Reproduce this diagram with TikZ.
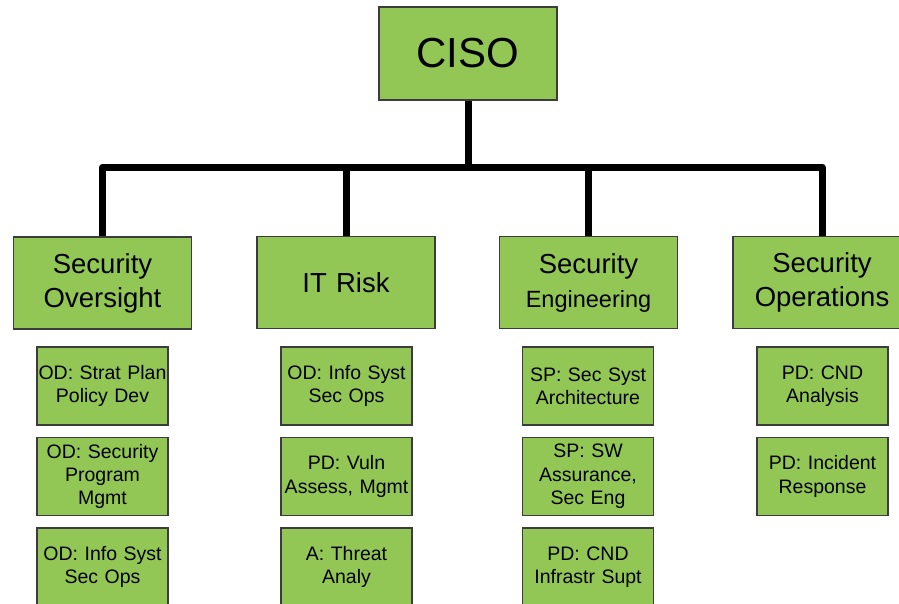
\documentclass[tikz,border=0pt]{standalone}
\usepackage{fontspec}
\setmainfont{Liberation Sans}
\definecolor{boxgreen}{RGB}{146,199,85}
\definecolor{boxedge}{RGB}{60,60,60}
\begin{document}
\begin{tikzpicture}[x=1pt,y=-1pt,
  base/.style={draw=boxedge, line width=1.3pt, fill=boxgreen, inner sep=0pt, align=center, anchor=center},
  top/.style={base, minimum width=178pt, minimum height=93pt, text width=178pt, font=\fontsize{42}{50}\selectfont},
  dept/.style={base, minimum width=178pt, minimum height=92pt, text width=178pt, font=\fontsize{27.5}{34}\selectfont},
  role/.style={base, minimum width=131pt, minimum height=78pt, text width=131pt, font=\fontsize{19.5}{23.3}\selectfont},
  conn/.style={line width=7pt, black, line join=round}]
\useasboundingbox (0,0) rectangle (899,603);
\clip (0,0) rectangle (899,603);
\node[top] (ciso) at (468,53.5) {CISO};
\node[dept] (so) at (102.5,283) {Security\\Oversight};
\node[dept] (it) at (346,282.5) {IT Risk};
\node[dept] (se) at (588.5,282.5) {Security\\{\fontsize{23.5}{30}\selectfont Engineering}};
\node[dept] (sp) at (822,282.5) {Security\\Operations};
\coordinate (bar) at (468,167);
\draw[conn] (ciso.south) -- (bar);
\draw[conn] (so.north) |- (bar) -| (sp.north);
\draw[conn] (it.north) -- (it.north |- bar);
\draw[conn] (se.north) -- (se.north |- bar);
% role boxes
\node[role] (so1) at (102.5,386) {OD: Strat Plan\\Policy Dev};
\node[role] (so2) at (102.5,476.5) {OD: Security\\Program\\Mgmt};
\node[role] (so3) at (102.5,567) {OD: Info Syst\\Sec Ops};
\node[role] (it1) at (346.5,386) {OD: Info Syst\\Sec Ops};
\node[role] (it2) at (346.5,476.5) {PD: Vuln\\Assess, Mgmt};
\node[role] (it3) at (346.5,567) {A: Threat\\Analy};
\node[role] (se1) at (588,386) {SP: Sec Syst\\Architecture};
\node[role] (se2) at (588,476.5) {SP: SW\\Assurance,\\Sec Eng};
\node[role] (se3) at (588,567) {PD: CND\\Infrastr Supt};
\node[role] (sp1) at (822.5,386) {PD: CND\\Analysis};
\node[role] (sp2) at (822.5,476.5) {PD: Incident\\Response};
\end{tikzpicture}
\end{document}
